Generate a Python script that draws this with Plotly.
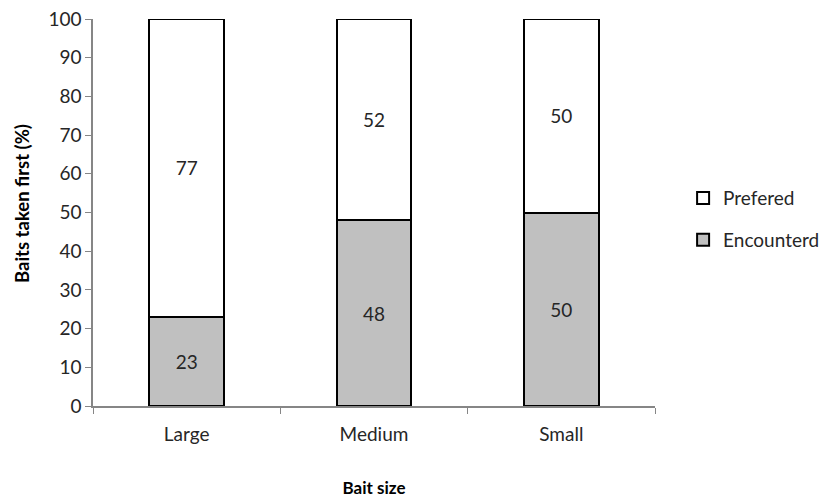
import plotly.graph_objects as go

categories = ["Large", "Medium", "Small"]
encountered = [23, 48, 50]
preferred = [77, 52, 50]
y_ticks = [0, 10, 20, 30, 40, 50, 60, 70, 80, 90, 100]

FONT = "Lato, 'Open Sans', sans-serif"
AXIS_GREY = "#868686"
TEXT = "#262626"
LABEL_SIZE = 19

fig = go.Figure()
fig.add_trace(go.Bar(
    x=categories, y=encountered, name="Encounterd",
    legendgroup="enc", legendrank=2,
    marker=dict(color="#c0c0c0", line=dict(color="#000000", width=2)),
    text=encountered, textposition="inside", insidetextanchor="middle",
    textfont=dict(family=FONT, size=LABEL_SIZE, color=TEXT),
    width=0.4,
))
fig.add_trace(go.Bar(
    x=categories, y=preferred, name="Prefered",
    legendgroup="pref", legendrank=1,
    marker=dict(color="#ffffff", line=dict(color="#000000", width=2)),
    text=preferred, textposition="inside", insidetextanchor="middle",
    textfont=dict(family=FONT, size=LABEL_SIZE, color=TEXT),
    width=0.4,
))

fig.update_layout(
    barmode="stack",
    width=825, height=498,
    margin=dict(l=93, r=170, t=19, b=92, autoexpand=False),
    paper_bgcolor="white", plot_bgcolor="white",
    font=dict(family=FONT, size=LABEL_SIZE, color=TEXT),
    showlegend=True,
    legend=dict(
        x=1.05, y=0.483, xanchor="left", yanchor="middle",
        traceorder="grouped", tracegroupgap=14,
        font=dict(family=FONT, size=LABEL_SIZE, color=TEXT),
    ),
    uniformtext=dict(mode="show", minsize=LABEL_SIZE),
    annotations=[dict(
        text="<b>Baits taken first (%)</b>", textangle=-90,
        xref="paper", yref="paper", x=-0.1263, y=0.522,
        xanchor="center", yanchor="middle", showarrow=False,
        font=dict(family=FONT, size=18.5, color="#000000"),
    )],
)
fig.update_xaxes(
    type="category", automargin=False,
    showline=True, linecolor=AXIS_GREY, linewidth=1.5,
    ticks="outside", tickson="boundaries", ticklen=6, tickcolor=AXIS_GREY,
    ticklabelstandoff=10,
    showgrid=False, zeroline=False,
    tickfont=dict(family=FONT, size=LABEL_SIZE, color=TEXT),
    title=dict(text="<b>Bait size</b>", font=dict(family=FONT, size=17, color="#000000"), standoff=39),
)
fig.update_yaxes(
    range=[0, 100], tickvals=y_ticks, automargin=False,
    showline=True, linecolor=AXIS_GREY, linewidth=1.5,
    ticks="outside", ticklen=6, tickcolor=AXIS_GREY,
    showgrid=False, zeroline=False,
    tickfont=dict(family=FONT, size=LABEL_SIZE, color=TEXT),
)

fig.write_html("out.html")
